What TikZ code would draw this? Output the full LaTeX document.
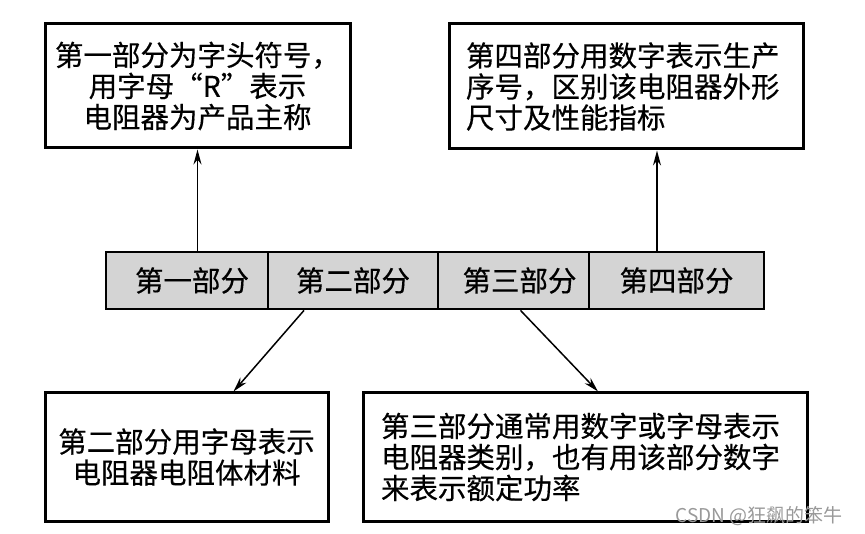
\documentclass[tikz,border=0pt]{standalone}
\usepackage{fontspec}
\setmainfont[FakeBold=0.4]{Noto Sans CJK SC}
\newfontfamily\wmfont{Noto Sans CJK SC}
\usetikzlibrary{arrows.meta}
\tikzset{
  box/.style={draw=black, line width=3pt, fill=white, inner sep=3pt,
    font=\fontsize{28.5}{31}\selectfont},
  cell/.style={draw=black, line width=2.8pt, fill=black!17, inner sep=0pt,
    minimum height=57pt, font=\fontsize{28.5}{31}\selectfont},
  arr/.style={line width=1.5pt, -{Stealth[length=15pt,width=8pt]}},
  wmark/.style={text=black!40, font=\wmfont\fontsize{19}{21}\selectfont}
}
\begin{document}
\begin{tikzpicture}[x=1pt,y=-1pt]
\useasboundingbox (0,0) rectangle (865,534);
% top boxes
\node[box, minimum width=305pt, minimum height=124pt, align=center] (tl) at (197.5,86)
  {第一部分为字头符号，\\用字母“R”表示\\电阻器为产品主称};
\node[box, minimum width=354pt, minimum height=125pt, text width=320pt, align=left] (tr) at (626,86.5)
  {第四部分用数字表示生产\\序号，区别该电阻器外形\\尺寸及性能指标};
% bar
\node[cell, minimum width=162pt] (c1) at (187,280.5) {\hspace{10pt}第一部分};
\node[cell, minimum width=170pt] (c2) at (353,280.5) {第二部分};
\node[cell, minimum width=151pt] (c3) at (513.5,280.5) {\hspace{12pt}第三部分};
\node[cell, minimum width=175pt] (c4) at (676.5,280.5) {第四部分};
% bottom boxes
\node[box, minimum width=283pt, minimum height=128pt, align=center] (bl) at (186.5,457)
  {第二部分用字母表示\\电阻器电阻体材料};
\node[box, minimum width=444pt, minimum height=128pt, text width=408pt, align=left] (br) at (585,457)
  {第三部分通常用数字或字母表示\\电阻器类别，也有用该部分数字\\来表示额定功率};
% connectors
\draw[arr] (c1.north -| tl.south) -- (tl.south);
\draw[arr] ([xshift=31pt]tr.south |- c4.north) -- ([xshift=31pt]tr.south);
\draw[arr] ([xshift=-49pt]c2.south) -- ([xshift=47pt]bl.north);
\draw[arr] ([xshift=7pt]c3.south) -- ([xshift=13pt]br.north);
% watermark
\node[wmark, anchor=east] (wm) at (846,516) {CSDN @狂飙的笨牛};
\end{tikzpicture}
\end{document}
